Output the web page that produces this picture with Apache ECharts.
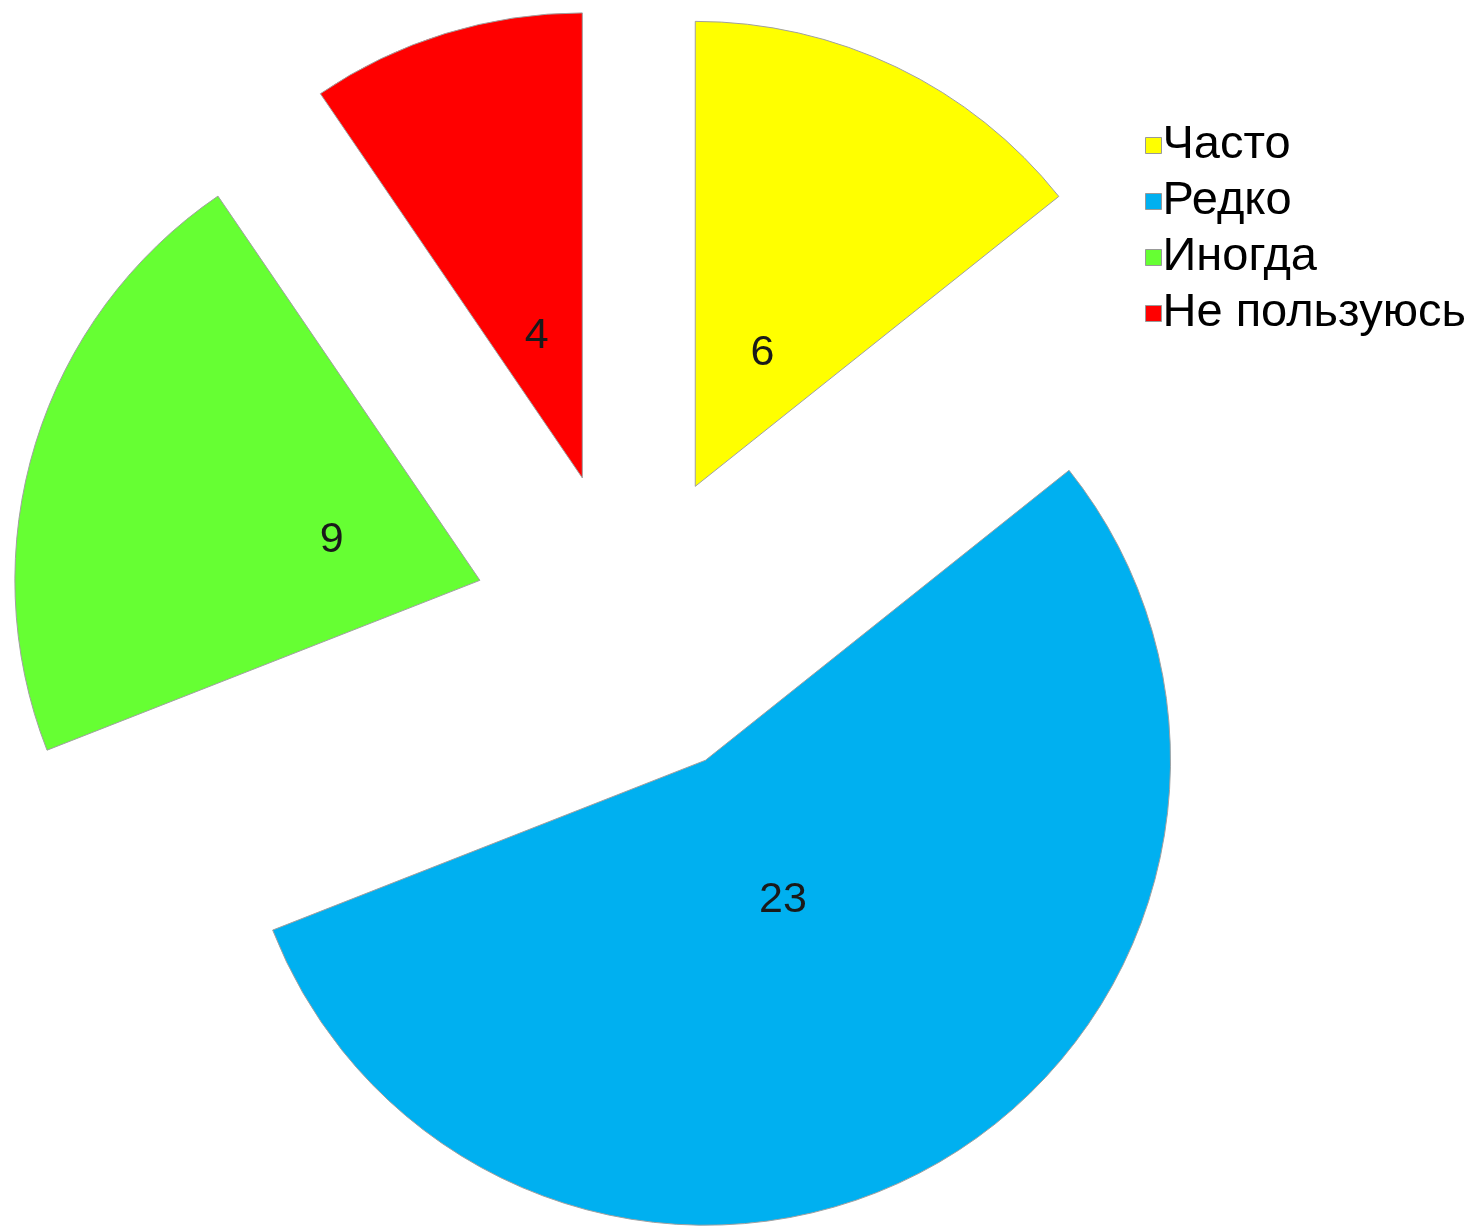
<!DOCTYPE html>
<html>
<head>
<meta charset="utf-8">
<script src="https://cdn.jsdelivr.net/npm/echarts@6/dist/echarts.min.js"></script>
<style>
html,body{margin:0;padding:0;background:#fff;}
#chart{width:1483px;height:1230px;}
</style>
</head>
<body>
<div id="chart"></div>
<script>
const categories = ['Часто', 'Редко', 'Иногда', 'Не пользуюсь'];
const values = [6, 23, 9, 4];
const colors = ['#FFFF00', '#00B0F0', '#66FF33', '#FF0000'];

const chart = echarts.init(document.getElementById('chart'), null, {renderer: 'canvas'});

const sliceData = categories.map((c, i) => ({
  name: c, value: values[i], selected: true,
  itemStyle: {color: colors[i]}
}));
const labelData = categories.map((c, i) => ({
  name: c, value: values[i], selected: true
}));

const center = [628, 626];
const offset = 155;

chart.setOption({
  animation: false,
  color: colors,
  legend: {
    orient: 'vertical',
    left: 1140,
    top: 117,
    icon: 'rect',
    itemWidth: 16,
    itemHeight: 16,
    itemGap: 9,
    selectedMode: false,
    textStyle: {fontFamily: 'Liberation Sans', fontSize: 47, lineHeight: 46, color: '#000', padding: [0, 0, 0, -4]},
    itemStyle: {borderColor: '#999', borderWidth: 1},
    data: categories
  },
  series: [
    {
      type: 'pie',
      center: center,
      radius: [0, 465],
      startAngle: 90,
      clockwise: true,
      selectedMode: 'multiple',
      selectedOffset: offset,
      avoidLabelOverlap: false,
      label: {show: false},
      labelLine: {show: false},
      emphasis: {disabled: true},
      select: {itemStyle: {borderColor: '#a0a0a0', borderWidth: 1}},
      itemStyle: {borderColor: '#a0a0a0', borderWidth: 1},
      silent: true,
      data: sliceData
    },
    {
      type: 'pie',
      center: center,
      radius: [0, 304],
      startAngle: 90,
      clockwise: true,
      selectedMode: 'multiple',
      selectedOffset: offset,
      avoidLabelOverlap: false,
      silent: true,
      itemStyle: {color: 'rgba(0,0,0,0)', borderWidth: 0},
      select: {itemStyle: {color: 'rgba(0,0,0,0)', borderWidth: 0}},
      emphasis: {disabled: true},
      labelLine: {show: false},
      label: {
        show: true,
        position: 'inner',
        formatter: '{v|{c}}',
        textBorderWidth: 0,
        rich: {
          v: {
            fontFamily: 'Liberation Sans',
            fontSize: 43,
            color: '#1a1a1a',
            padding: [12, 0, 0, 0]
          }
        }
      },
      data: labelData
    }
  ]
});
</script>
</body>
</html>
